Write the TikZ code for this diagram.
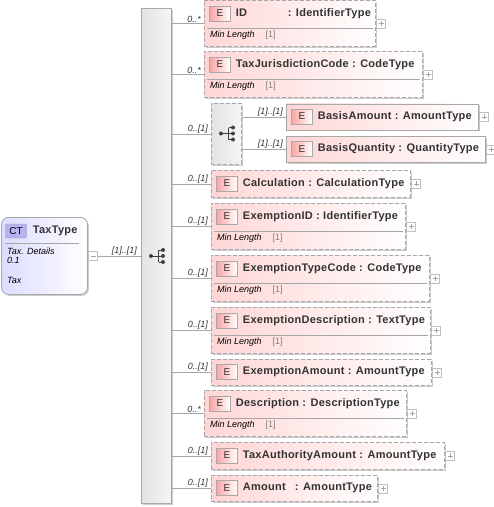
\documentclass[tikz,border=0pt]{standalone}
\usepackage{fontspec}
\setmainfont{Liberation Sans}
\newfontfamily\namefont[LetterSpace=2.5]{Liberation Sans}
\usepackage{xcolor}
\usetikzlibrary{positioning, calc, shadows}

\definecolor{elempink}{HTML}{FFD6D6}
\definecolor{btnpink}{HTML}{F9A5A5}
\definecolor{ctblue}{HTML}{DCDCFF}
\definecolor{ctbtn}{HTML}{B4B4F0}
\definecolor{edgegray}{HTML}{A8A8A8}
\definecolor{inkgray}{HTML}{333333}

\tikzset{
    softshadow/.style={drop shadow={shadow xshift=1.5pt, shadow yshift=-1.5pt, opacity=0.2, fill=black}},
    elem/.style={draw=edgegray, thick, dash pattern=on 4pt off 2pt, left color=elempink, right color=white, anchor=north west, inner sep=0pt, softshadow},
    elemsolid/.style={elem, solid},
    seqbox/.style={draw=edgegray, thick, left color=gray!22, right color=gray!8, anchor=north west, inner sep=0pt, softshadow},
    ebtn/.style={draw=edgegray, left color=btnpink, right color=white, minimum width=21pt, minimum height=15pt, inner sep=0pt, font=\fontsize{10}{10}\selectfont, text=inkgray},
    ename/.style={inner sep=0pt, font=\namefont\fontsize{11}{12}\bfseries\selectfont, text=inkgray},
    minlen/.style={inner sep=0pt, anchor=west, font=\fontsize{9}{10}\itshape\selectfont, text=black},
    mult/.style={inner sep=0pt, font=\fontsize{9}{10}\itshape\selectfont, text=black!80},
    sepline/.style={draw=gray!70},
    conn/.style={draw=gray!70},
    expander/.style={draw=gray!50, fill=white, minimum size=9pt, inner sep=0pt, path picture={
        \draw[gray!70] (path picture bounding box.west) ++(2pt,0) -- ++(5pt,0);
        \draw[gray!70] (path picture bounding box.south) ++(0,2pt) -- ++(0,5pt);}},
    collapser/.style={draw=gray!50, fill=white, minimum size=9pt, inner sep=0pt, path picture={
        \draw[gray!70] (path picture bounding box.west) ++(2pt,0) -- ++(5pt,0);}},
    seqicon/.pic={
        \draw[black!75, line width=0.7pt] (-6,0) -- (6,0) (1.5,6) -- (1.5,-6) (1.5,6) -- (6,6) (1.5,-6) -- (6,-6);
        \fill[black!75] (-6,0) circle (2pt) (6,6) circle (2pt) (6,0) circle (2pt) (6,-6) circle (2pt);
    }
}
\newcommand{\minlabel}{Min Length\hspace{11pt}\textcolor{gray}{\fontshape{n}\selectfont[1]}}

\begin{document}
\begin{tikzpicture}[x=1pt, y=1pt]
    \useasboundingbox (0,0) rectangle (494,-507);

    % Main sequence bar
    \node[seqbox, minimum width=30pt, minimum height=495pt] (seq) at (141,-8) {};
    \pic at (157,-256) {seqicon};

    % Complex type
    \node[draw=edgegray, thick, rounded corners=7pt, left color=ctblue, right color=white, minimum width=86pt, minimum height=77pt, anchor=north west, softshadow] (tax) at (1,-217) {};
    \node[draw=gray!80, rounded corners=2pt, fill=ctbtn, minimum width=21pt, minimum height=14pt, inner sep=0pt, font=\fontsize{10}{10}\selectfont] (taxC) at (16,-231) {CT};
    \node[ename, right=6pt of taxC] (taxN) {TaxType};
    \draw[sepline] (5,-243) -- (79,-243);
    \node[minlen, anchor=north west] (taxD) at (7,-247.5) {Tax. Details};
    \node[minlen, anchor=north west] (taxV) at (7,-257.5) {0.1};
    \node[minlen, anchor=north west] (taxT) at (7,-277.5) {Tax};
    \node[collapser, right=0.5pt of tax] (taxX) {};
    \draw[conn] (taxX) -- (seq.west |- taxX);
    \node[mult, above left=0.5pt and 4pt of seq.west |- taxX] (taxM) {[1]..[1]};

    % ID
    \node[elem, minimum width=171pt, minimum height=46pt] (id) at (204,0) {};
    \node[ebtn] (idE) at (220,-13.5) {E};
    \node[ename, right=5pt of idE] (idN) {\makebox[52pt][l]{ID}: IdentifierType};
    \draw[sepline] ($(id.north west)+(3,-28)$) -- ($(id.north east)+(-3,-28)$);
    \node[minlen] (idL) at (210,-35) {\minlabel};
    \node[expander, right=0.5pt of id] (idX) {};
    \draw[conn] (seq.east |- id.west) -- (id.west);
    \node[mult, above left=0.5pt and 3pt of id.west] (idM) {0..*};

    % TaxJurisdictionCode
    \node[elem, minimum width=218pt, minimum height=46pt] (juris) at (204,-51) {};
    \node[ebtn] (jurisE) at (220,-64.5) {E};
    \node[ename, right=5pt of jurisE] (jurisN) {TaxJurisdictionCode : CodeType};
    \draw[sepline] ($(juris.north west)+(3,-28)$) -- ($(juris.north east)+(-3,-28)$);
    \node[minlen] (jurisL) at (210,-86) {\minlabel};
    \node[expander, right=0.5pt of juris] (jurisX) {};
    \draw[conn] (seq.east |- juris.west) -- (juris.west);
    \node[mult, above left=0.5pt and 3pt of juris.west] (jurisM) {0..*};

    % Basis group
    \node[seqbox, dash pattern=on 4pt off 2pt, minimum width=30pt, minimum height=61pt] (basis) at (211,-103) {};
    \pic at (227,-133.5) {seqicon};
    \draw[conn] (seq.east |- basis.west) -- (basis.west);
    \node[mult, above left=0.5pt and 3pt of basis.west] (basisM) {0..[1]};

    % BasisAmount
    \node[elemsolid, minimum width=192pt, minimum height=26pt] (bamt) at (286,-103.5) {};
    \node[ebtn] (bamtE) at (302,-116.5) {E};
    \node[ename, right=5pt of bamtE] (bamtN) {BasisAmount : AmountType};
    \node[expander, right=0.5pt of bamt] (bamtX) {};
    \draw[conn] (basis.east |- bamt.west) -- (bamt.west);
    \node[mult, above left=0.5pt and 3pt of bamt.west] (bamtM) {[1]..[1]};

    % BasisQuantity
    \node[elemsolid, minimum width=199pt, minimum height=26pt] (bqty) at (286,-136) {};
    \node[ebtn] (bqtyE) at (302,-149) {E};
    \node[ename, right=5pt of bqtyE] (bqtyN) {BasisQuantity : QuantityType};
    \node[expander, right=0.5pt of bqty] (bqtyX) {};
    \draw[conn] (basis.east |- bqty.west) -- (bqty.west);
    \node[mult, above left=0.5pt and 3pt of bqty.west] (bqtyM) {[1]..[1]};

    % Calculation
    \node[elem, minimum width=199pt, minimum height=27pt] (calc) at (211,-170) {};
    \node[ebtn] (calcE) at (227,-183.5) {E};
    \node[ename, right=5pt of calcE] (calcN) {Calculation : CalculationType};
    \node[expander, right=0.5pt of calc] (calcX) {};
    \draw[conn] (seq.east |- calc.west) -- (calc.west);
    \node[mult, above left=0.5pt and 3pt of calc.west] (calcM) {0..[1]};

    % ExemptionID
    \node[elem, minimum width=194pt, minimum height=46pt] (exid) at (211,-203) {};
    \node[ebtn] (exidE) at (227,-216.5) {E};
    \node[ename, right=5pt of exidE] (exidN) {ExemptionID : IdentifierType};
    \draw[sepline] ($(exid.north west)+(3,-28)$) -- ($(exid.north east)+(-3,-28)$);
    \node[minlen] (exidL) at (217,-238) {\minlabel};
    \node[expander, right=0.5pt of exid] (exidX) {};
    \draw[conn] (seq.east |- exid.west) -- (exid.west);
    \node[mult, above left=0.5pt and 3pt of exid.west] (exidM) {0..[1]};

    % ExemptionTypeCode
    \node[elem, minimum width=218pt, minimum height=46pt] (extc) at (211,-255) {};
    \node[ebtn] (extcE) at (227,-268.5) {E};
    \node[ename, right=5pt of extcE] (extcN) {ExemptionTypeCode : CodeType};
    \draw[sepline] ($(extc.north west)+(3,-28)$) -- ($(extc.north east)+(-3,-28)$);
    \node[minlen] (extcL) at (217,-290) {\minlabel};
    \node[expander, right=0.5pt of extc] (extcX) {};
    \draw[conn] (seq.east |- extc.west) -- (extc.west);
    \node[mult, above left=0.5pt and 3pt of extc.west] (extcM) {0..[1]};

    % ExemptionDescription
    \node[elem, minimum width=219pt, minimum height=46pt] (exds) at (211,-307) {};
    \node[ebtn] (exdsE) at (227,-320.5) {E};
    \node[ename, right=5pt of exdsE] (exdsN) {ExemptionDescription : TextType};
    \draw[sepline] ($(exds.north west)+(3,-28)$) -- ($(exds.north east)+(-3,-28)$);
    \node[minlen] (exdsL) at (217,-342) {\minlabel};
    \node[expander, right=0.5pt of exds] (exdsX) {};
    \draw[conn] (seq.east |- exds.west) -- (exds.west);
    \node[mult, above left=0.5pt and 3pt of exds.west] (exdsM) {0..[1]};

    % ExemptionAmount
    \node[elem, minimum width=220pt, minimum height=26pt] (examt) at (211,-359) {};
    \node[ebtn] (examtE) at (227,-372) {E};
    \node[ename, right=5pt of examtE] (examtN) {ExemptionAmount : AmountType};
    \node[expander, right=0.5pt of examt] (examtX) {};
    \draw[conn] (seq.east |- examt.west) -- (examt.west);
    \node[mult, above left=0.5pt and 3pt of examt.west] (examtM) {0..[1]};

    % Description
    \node[elem, minimum width=202pt, minimum height=46pt] (descr) at (204,-390) {};
    \node[ebtn] (descrE) at (220,-403.5) {E};
    \node[ename, right=5pt of descrE] (descrN) {Description : DescriptionType};
    \draw[sepline] ($(descr.north west)+(3,-28)$) -- ($(descr.north east)+(-3,-28)$);
    \node[minlen] (descrL) at (210,-425) {\minlabel};
    \node[expander, right=0.5pt of descr] (descrX) {};
    \draw[conn] (seq.east |- descr.west) -- (descr.west);
    \node[mult, above left=0.5pt and 3pt of descr.west] (descrM) {0..*};

    % TaxAuthorityAmount
    \node[elem, minimum width=233pt, minimum height=27pt] (auth) at (211,-442) {};
    \node[ebtn] (authE) at (227,-455.5) {E};
    \node[ename, right=5pt of authE] (authN) {TaxAuthorityAmount : AmountType};
    \node[expander, right=0.5pt of auth] (authX) {};
    \draw[conn] (seq.east |- auth.west) -- (auth.west);
    \node[mult, above left=0.5pt and 3pt of auth.west] (authM) {0..[1]};

    % Amount
    \node[elem, minimum width=166pt, minimum height=26pt] (amt) at (211,-475) {};
    \node[ebtn] (amtE) at (227,-488) {E};
    \node[ename, right=5pt of amtE] (amtN) {\makebox[52pt][l]{Amount}: AmountType};
    \node[expander, right=0.5pt of amt] (amtX) {};
    \draw[conn] (seq.east |- amt.west) -- (amt.west);
    \node[mult, above left=0.5pt and 3pt of amt.west] (amtM) {0..[1]};
\end{tikzpicture}
\end{document}
